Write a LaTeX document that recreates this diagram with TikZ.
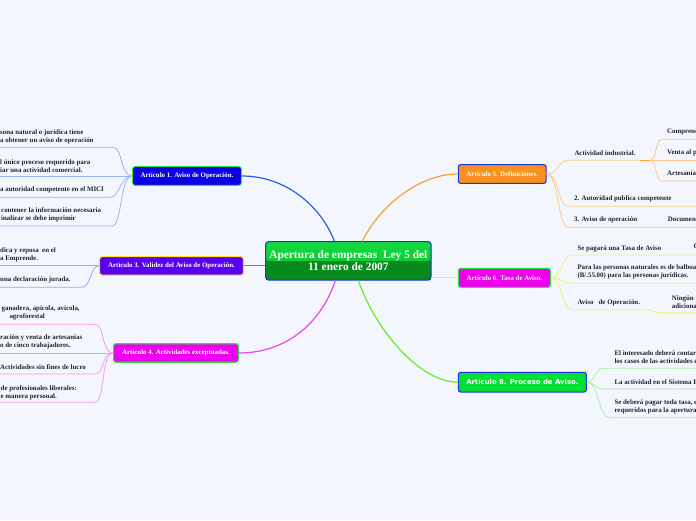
\documentclass[tikz,border=0pt]{standalone}
\usepackage{fontspec}
\setmainfont{Liberation Serif}
\newfontfamily\artsans{DejaVu Sans}
\usetikzlibrary{calc}
\definecolor{bg}{HTML}{F3F6FD}
\definecolor{txt}{HTML}{222230}
\definecolor{rootTop}{HTML}{14DA3E}
\definecolor{rootMid}{HTML}{05C02E}
\definecolor{rootBot}{HTML}{07891D}
\definecolor{bBlue}{HTML}{1A35DD}
\definecolor{bGreen}{HTML}{33DD44}
\definecolor{bYellow}{HTML}{FFDD33}
\definecolor{fBlue}{HTML}{0A00E6}
\definecolor{fPurple}{HTML}{5A00F0}
\definecolor{fMag}{HTML}{EE00EE}
\definecolor{fOrange}{HTML}{F7901E}
\definecolor{fGreen}{HTML}{00DD33}
\definecolor{cBlue}{HTML}{2F5BEA}
\definecolor{cPurple}{HTML}{8866FF}
\definecolor{cMag}{HTML}{EE44EE}
\definecolor{cOrange}{HTML}{FF9E2C}
\definecolor{cYellow}{HTML}{EEEE55}
\definecolor{cGreen}{HTML}{66EE22}
\definecolor{sBlue}{HTML}{99B4F0}
\definecolor{sPurple}{HTML}{B59CF5}
\definecolor{sMag}{HTML}{F49AF4}
\definecolor{sOrange}{HTML}{FFC98A}
\definecolor{sYellow}{HTML}{F0F07A}
\definecolor{sGreen}{HTML}{A8F0A0}
\begin{document}
\begin{tikzpicture}[x=1pt,y=-1pt,
  artbox/.style={draw, line width=1.1pt, rounded corners=2.5pt, text=white,
    font=\bfseries\fontsize{6.9}{8}\selectfont, inner sep=0pt, align=center},
  rootbox/.style={draw=bBlue, line width=1.1pt, rounded corners=3pt, text=white,
    fill=rootBot, font=\bfseries\fontsize{11.4}{12}\selectfont, inner sep=0pt,
    align=center, minimum width=165.5pt, minimum height=38.5pt,
    path picture={\shade[top color=rootTop, bottom color=rootMid]
      (path picture bounding box.north west) rectangle (path picture bounding box.east);}},
  conn/.style={line width=1.2pt, line cap=round},
  sub/.style={line width=0.8pt, line cap=round},
  lbl/.style={anchor=west, inner sep=0pt, align=left, text=txt,
    font=\bfseries\fontsize{6.9}{8}\selectfont}]
\useasboundingbox (0,0) rectangle (696,520);
\fill[bg] (0,0) rectangle (696,520);
\begin{scope}
\clip (0,0) rectangle (696,520);

% ---------- nodes ----------
\node[rootbox] (root) at (348.35,260.85) {Apertura de empresas\ \ Ley 5 del\\11 enero de 2007};
\node[artbox, draw=bGreen, fill=fBlue, minimum width=108.8pt, minimum height=18.8pt] (a1) at (187,176) {Artículo 1. Aviso de Operación.};
\node[artbox, draw=bYellow, fill=fPurple, minimum width=143.8pt, minimum height=18.5pt] (a3) at (171.5,265.85) {Artículo 3. Validez del Aviso de Operación.};
\node[artbox, draw=bGreen, fill=fMag, minimum width=124.8pt, minimum height=18.5pt] (a4) at (176,353) {Artículo 4. Actividades exceptuadas.};
\node[artbox, draw=bBlue, fill=fOrange, minimum width=87.8pt, minimum height=18.8pt] (a5) at (502.2,174) {Artículo 5. Definiciones.};
\node[artbox, draw=bGreen, fill=fMag, minimum width=92.1pt, minimum height=19.1pt] (a6) at (504.35,277.85) {Artículo 6. Tasa de Aviso.};
\node[artbox, draw=bBlue, fill=fGreen, minimum width=128.1pt, minimum height=19.8pt,
  font=\artsans\bfseries\fontsize{6.9}{8}\selectfont] (a8) at (522.35,382.2) {Artículo 8. Proceso de Aviso.};

% ---------- main connectors ----------
\draw[conn, cBlue] (a1.east) .. controls +(43,0) and +(-14,-36) .. ([xshift=-14pt]root.north);
\draw[conn, cOrange] ([xshift=14pt]root.north) .. controls +(18,-36) and +(-38,0) .. (a5.west);
\draw[conn, cPurple] (a3.east) -- (root.west |- a3.east);
\draw[conn, cYellow] (root.east |- a6.west) -- (a6.west);
\draw[conn, cMag] ([xshift=-13pt]root.south) .. controls +(-15,44) and +(46,0) .. (a4.east);
\draw[conn, cGreen] ([xshift=10pt]root.south) .. controls +(17,49) and +(-38,0) .. (a8.west);

% ---------- Articulo 1 children ----------
\coordinate (e11) at (113,147.3); \coordinate (w11) at (0,147.3);
\coordinate (w12) at (0,176);
\coordinate (e13) at (110,197.3); \coordinate (w13) at (0,197.3);
\coordinate (e14) at (112,226); \coordinate (w14) at (0,226);
\draw[sub, sBlue] (a1.west) .. controls +(-12,0) and +(10,0) .. (e11) -- (w11);
\draw[sub, sBlue] (a1.west) -- (w12);
\draw[sub, sBlue] (a1.west) .. controls +(-12,0) and +(10,0) .. (e13) -- (w13);
\draw[sub, sBlue] (a1.west) .. controls +(-12,0) and +(10,0) .. (e14) -- (w14);
\node[lbl] (t11) at (0,137) {sona natural o jurídica tiene\\a obtener un aviso de operación};
\node[lbl] (t12) at (0,165.7) {l único proceso requerido para\\iar una actividad comercial.};
\node[lbl] (t13) at (0,190.3) {a autoridad competente en el MICI};
\node[lbl] (t14) at (1,215) {contener la información necesaria\\inalizar se debe imprimir};

% ---------- Articulo 3 children ----------
\coordinate (w31) at (0,265.85);
\coordinate (e32) at (82,287.3); \coordinate (w32) at (0,287.3);
\draw[sub, sPurple] (a3.west) -- (w31);
\draw[sub, sPurple] (a3.west) .. controls +(-9,0) and +(9,0) .. (e32) -- (w32);
\node[lbl] (t31) at (0,254.85) {dica y reposa\ \ en el\\a Emprende.};
\node[lbl] (t32) at (0,280) {una declaración jurada.};

% ---------- Articulo 4 children ----------
\coordinate (e41) at (95,324.3); \coordinate (w41) at (0,324.3);
\coordinate (w42) at (0,353);
\coordinate (e43) at (95,374); \coordinate (w43) at (0,374);
\coordinate (e44) at (95,402.3); \coordinate (w44) at (0,402.3);
\draw[sub, sMag] (a4.west) .. controls +(-12,0) and +(10,0) .. (e41) -- (w41);
\draw[sub, sMag] (a4.west) -- (w42);
\draw[sub, sMag] (a4.west) .. controls +(-12,0) and +(10,0) .. (e43) -- (w43);
\draw[sub, sMag] (a4.west) .. controls +(-12,0) and +(10,0) .. (e44) -- (w44);
\node[lbl] (t41) at (1.5,309) {ganadera, apícola, avícola,};
\node[lbl] (t41b) at (9.3,317) {agroforestal};
\node[lbl] (t42) at (0,342.3) {ración y venta de artesanías\\o de cinco trabajadores.};
\node[lbl] (t43) at (0,366.7) {Actividades sin fines de lucro};
\node[lbl] (t44) at (0.5,392.3) {de profesionales liberales:\\e manera personal.};

% ---------- Articulo 5 children ----------
\coordinate (s51) at (568,160.3); \coordinate (k51) at (640,160.3); \coordinate (j51) at (650,160.3);
\coordinate (g511s) at (662,139.3); \coordinate (g511e) at (696,139.3);
\coordinate (g512e) at (696,160.3);
\coordinate (g513s) at (662,181); \coordinate (g513e) at (696,181);
\coordinate (s52) at (568,206.3); \coordinate (e52) at (696,206.3);
\coordinate (s53) at (568,227.3); \coordinate (e53) at (696,227.3);
\draw[sub, sOrange] (a5.east) .. controls +(12,0) and +(-10,0) .. (s51) -- (k51);
\draw[line width=1.1pt, cOrange] (k51) -- (j51);
\draw[sub, sOrange] (j51) .. controls +(7,0) and +(-7,0) .. (g511s) -- (g511e);
\draw[sub, sOrange] (j51) -- (g512e);
\draw[sub, sOrange] (j51) .. controls +(7,0) and +(-7,0) .. (g513s) -- (g513e);
\draw[sub, sOrange] (a5.east) .. controls +(12,0) and +(-10,0) .. (s52) -- (e52);
\draw[sub, sOrange] (a5.east) .. controls +(12,0) and +(-10,0) .. (s53) -- (e53);
\node[lbl] (t51) at (574.3,153) {Actividad industrial.};
\node[lbl] (g511) at (667,132) {Comprende};
\node[lbl] (g512) at (667,153) {Venta al p};
\node[lbl] (g513) at (667,173.3) {Artesanía};
\node[lbl] (t52) at (574,199.3) {2. Autoridad publica competente};
\node[lbl] (t53) at (574,219.7) {3. Aviso de operación};
\node[lbl] (g531) at (667.7,219.7) {Documento};

% ---------- Articulo 6 children ----------
\coordinate (s61) at (572,255); \coordinate (e61) at (696,255);
\coordinate (s62) at (572,283.3); \coordinate (e62) at (696,283.3);
\coordinate (s63) at (572,310); \coordinate (k63) at (648,310);
\coordinate (g631s) at (660,312.7); \coordinate (g631e) at (696,312.7);
\draw[sub, sYellow] (a6.east) .. controls +(11,0) and +(-10,0) .. (s61) -- (e61);
\draw[sub, sYellow] (a6.east) .. controls +(11,0) and +(-10,0) .. (s62) -- (e62);
\draw[sub, sYellow] (a6.east) .. controls +(11,0) and +(-10,0) .. (s63) -- (k63)
  .. controls +(6,0) and +(-6,0) .. (g631s) -- (g631e);
\node[lbl] (t61) at (577.3,249) {Se pagará una Tasa de Aviso};
\node[lbl] (g611) at (693.3,246.7) {C};
\node[lbl] (t62) at (577.3,272) {Para las personas naturales es de balboa\\(B/.55.00) para las personas jurídicas.};
\node[lbl] (t63) at (577.3,302.7) {Aviso\ \ \ de Operación.};
\node[lbl] (g631) at (671.7,301.7) {Ningún\\adicional};

% ---------- Articulo 8 children ----------
\coordinate (s81) at (603,368.3); \coordinate (e81) at (696,368.3);
\coordinate (s82) at (603,389); \coordinate (e82) at (696,389);
\coordinate (s83) at (610,417.7); \coordinate (e83) at (696,417.7);
\draw[sub, sGreen] (a8.east) .. controls +(8,0) and +(-8,0) .. (s81) -- (e81);
\draw[sub, sGreen] (a8.east) .. controls +(8,0) and +(-8,0) .. (s82) -- (e82);
\draw[sub, sGreen] (a8.east) .. controls +(12,0) and +(-12,0) .. (s83) -- (e83);
\node[lbl] (t81) at (614.3,357.2) {El interesado deberá contar\\los casos de las actividades e};
\node[lbl] (t82) at (614.3,382.3) {La actividad en el Sistema E};
\node[lbl] (t83) at (614.3,407.2) {Se deberá pagar toda tasa, e\\requeridos para la apertura};
\end{scope}
\end{tikzpicture}
\end{document}
